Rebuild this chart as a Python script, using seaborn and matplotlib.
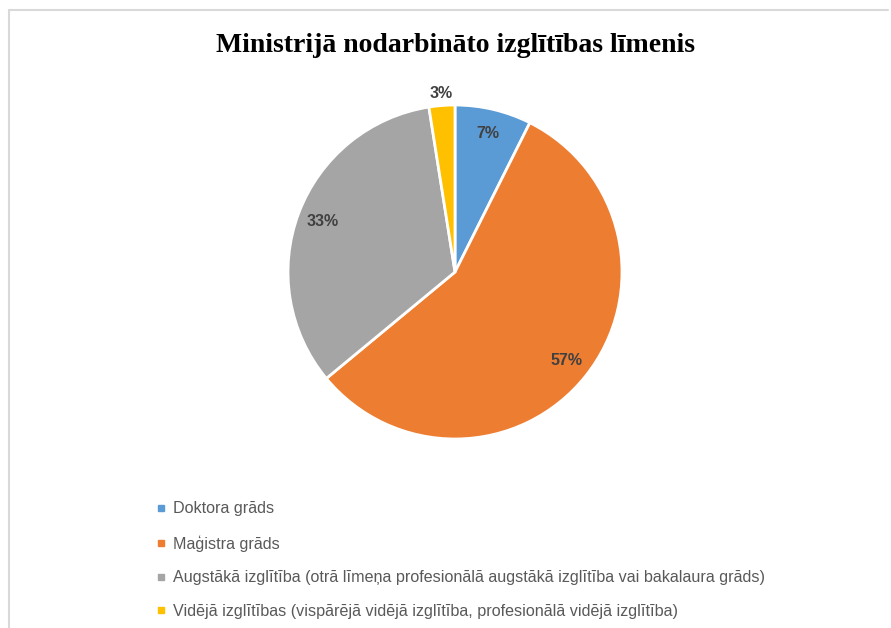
import numpy as np
import seaborn as sns
import matplotlib.pyplot as plt
from matplotlib.lines import Line2D

# data
categories = [
    "Doktora grāds",
    "Maģistra grāds",
    "Augstākā izglītība (otrā līmeņa profesionālā augstākā izglītība vai bakalaura grāds)",
    "Vidējā izglītības (vispārējā vidējā izglītība, profesionālā vidējā izglītība)",
]
shares = [7.4, 56.6, 33.5, 2.5]
pct_labels = ["7%", "57%", "33%", "3%"]
colors = ["#5B9BD5", "#ED7D31", "#A5A5A5", "#FFC000"]

sns.set_theme(style="white")
plt.rcParams["font.family"] = ["Liberation Sans", "DejaVu Sans"]

fig = plt.figure(figsize=(8.91, 6.28), dpi=100)
W, H = 891, 628
cx, cy, r = 455, 272, 167
ax = fig.add_axes([(cx - r) / W, (H - cy - r) / H, 2 * r / W, 2 * r / H])

wedges, _ = ax.pie(shares, colors=colors, startangle=90, counterclock=False,
                   radius=1, wedgeprops=dict(edgecolor="white", linewidth=2))
ax.set_xlim(-1, 1)
ax.set_ylim(-1, 1)
ax.set_aspect("equal")
ax.axis("off")

# percentage labels, placed from the wedge angles
for w, lab in zip(wedges, pct_labels):
    mid = np.deg2rad((w.theta1 + w.theta2) / 2)
    d = 1.07 if lab == "3%" else 0.85
    ax.text(d * np.cos(mid), d * np.sin(mid), lab, ha="center", va="center",
            fontsize=11.5, fontweight="bold", color="#404040")

fig.text(455 / W, 1 - 45 / H, "Ministrijā nodarbināto izglītības līmenis",
         ha="center", va="center", fontsize=20, fontweight="bold",
         family=["Liberation Serif", "DejaVu Serif"], color="black")

handles = [Line2D([], [], marker="s", linestyle="none", markersize=5,
                  markerfacecolor=c, markeredgecolor=c) for c in colors]
fig.legend(handles, categories, loc="upper left",
           bbox_to_anchor=(150 / W, 1 - 495 / H), frameon=False,
           fontsize=11.6, labelcolor="#595959", handlelength=0.6,
           handletextpad=0.4, labelspacing=1.16, borderaxespad=0)

# light frame on the left and top edges
fig.add_artist(Line2D([9 / W, 9 / W], [0, 1 - 10 / H], color="#D9D9D9", lw=1.5))
fig.add_artist(Line2D([9 / W, 888 / W], [1 - 10 / H, 1 - 10 / H], color="#D9D9D9", lw=1.5))

fig.savefig("out.png", dpi=100, facecolor="white")
